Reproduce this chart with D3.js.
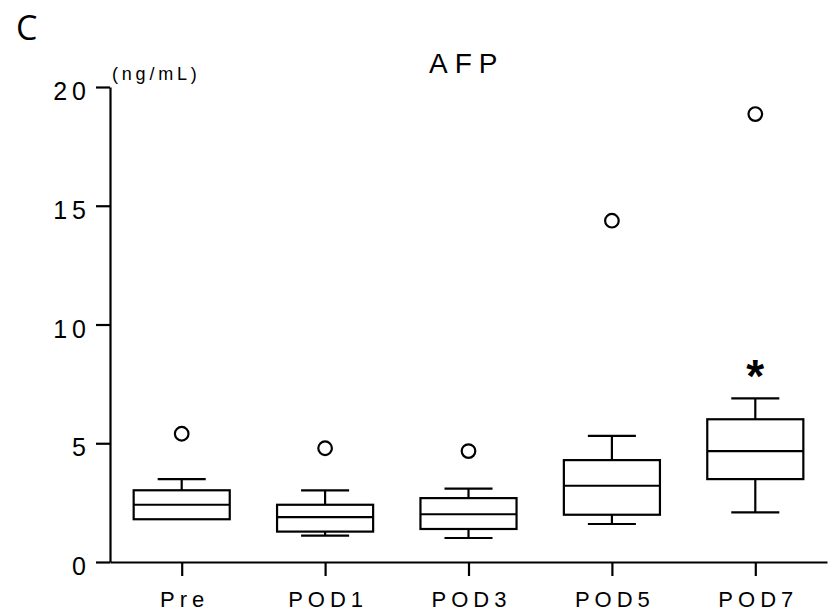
<!DOCTYPE html>
<html lang="en">
  <head>
    <title>AFP</title>
    <script src="https://cdn.jsdelivr.net/npm/d3@7"></script>
    <style>
      body { margin: 0; background: #fff; }
    </style>
  </head>
  <body>
    <div id="main"></div>
    <script>
      // group names and box-plot values (ng/mL)
      let categories = ['Pre', 'POD1', 'POD3', 'POD5', 'POD7']
      let whisker_low  = [1.80, 1.11, 1.01, 1.60, 2.09]
      let q1           = [1.80, 1.28, 1.39, 1.99, 3.49]
      let median       = [2.41, 1.89, 2.01, 3.21, 4.67]
      let q3           = [3.02, 2.41, 2.69, 4.29, 6.01]
      let whisker_high = [3.49, 3.02, 3.09, 5.31, 6.89]
      let outliers     = [[5.40], [4.79], [4.67], [14.37], [18.86]]
      let y_ticks = [0, 5, 10, 15, 20]
      let significant = ['POD7']

      let width = 836, height = 613
      let svg = d3.select('#main').append('svg')
        .attr('width', width)
        .attr('height', height)

      let scale_x = d3.scalePoint()
        .domain(categories)
        .range([110, 827])
        .padding(0.5)
      let scale_y = d3.scaleLinear()
        .domain([0, 20])
        .range([562, 87])

      let box_w = scale_x.step() * 0.67
      let cap_w = box_w / 2
      let font = "'Liberation Sans', Arial, Helvetica, sans-serif"

      let boxes = categories.map((c, i) => ({
        name: c, lo: whisker_low[i], q1: q1[i], med: median[i],
        q3: q3[i], hi: whisker_high[i], out: outliers[i]
      }))

      // axes
      let y_axis = d3.axisLeft(scale_y).tickValues(y_ticks)
        .tickSize(14).tickSizeOuter(0).tickPadding(5)
      let gy = svg.append('g')
        .attr('transform', 'translate(110,0)')
        .call(y_axis)
      gy.selectAll('text')
        .attr('font-family', font)
        .attr('font-size', '25px')
        .attr('letter-spacing', '5px')
        .attr('dy', '0.5em')
        .attr('fill', '#000')

      let x_axis = d3.axisBottom(scale_x)
        .tickSize(14).tickSizeOuter(0).tickPadding(15)
      let gx = svg.append('g')
        .attr('transform', 'translate(0,562)')
        .call(x_axis)
      gx.selectAll('text')
        .attr('font-family', font)
        .attr('font-size', '22px')
        .attr('letter-spacing', '5px')
        .attr('dx', '2.5px')
        .attr('fill', '#000')

      svg.selectAll('.domain, .tick line')
        .attr('stroke', '#000')
        .attr('stroke-width', 2.2)

      // box plots
      let g = svg.append('g')
        .attr('fill', 'none')
        .attr('stroke', '#000')
        .attr('stroke-width', 2.2)

      let bx = g.selectAll('g.box')
        .data(boxes)
        .enter()
        .append('g')
        .attr('class', 'box')

      // whisker stems
      bx.append('line')
        .attr('x1', (d) => scale_x(d.name))
        .attr('x2', (d) => scale_x(d.name))
        .attr('y1', (d) => scale_y(d.q3))
        .attr('y2', (d) => scale_y(d.hi))
      bx.append('line')
        .attr('x1', (d) => scale_x(d.name))
        .attr('x2', (d) => scale_x(d.name))
        .attr('y1', (d) => scale_y(d.q1))
        .attr('y2', (d) => scale_y(d.lo))
      // caps
      bx.append('line')
        .attr('x1', (d) => scale_x(d.name) - cap_w / 2)
        .attr('x2', (d) => scale_x(d.name) + cap_w / 2)
        .attr('y1', (d) => scale_y(d.hi))
        .attr('y2', (d) => scale_y(d.hi))
      bx.filter((d) => d.lo < d.q1)
        .append('line')
        .attr('x1', (d) => scale_x(d.name) - cap_w / 2)
        .attr('x2', (d) => scale_x(d.name) + cap_w / 2)
        .attr('y1', (d) => scale_y(d.lo))
        .attr('y2', (d) => scale_y(d.lo))
      // box
      bx.append('rect')
        .attr('x', (d) => scale_x(d.name) - box_w / 2)
        .attr('y', (d) => scale_y(d.q3))
        .attr('width', box_w)
        .attr('height', (d) => scale_y(d.q1) - scale_y(d.q3))
        .attr('fill', '#fff')
      // median
      bx.append('line')
        .attr('x1', (d) => scale_x(d.name) - box_w / 2)
        .attr('x2', (d) => scale_x(d.name) + box_w / 2)
        .attr('y1', (d) => scale_y(d.med))
        .attr('y2', (d) => scale_y(d.med))
      // outliers
      bx.selectAll('circle')
        .data((d) => d.out.map((v) => ({ name: d.name, v: v })))
        .enter()
        .append('circle')
        .attr('cx', (d) => scale_x(d.name))
        .attr('cy', (d) => scale_y(d.v))
        .attr('r', 6.8)

      // significance mark
      svg.selectAll('text.star')
        .data(boxes.filter((d) => significant.includes(d.name)))
        .enter()
        .append('text')
        .attr('class', 'star')
        .attr('x', (d) => scale_x(d.name))
        .attr('y', (d) => scale_y(d.hi) - 6)
        .attr('text-anchor', 'middle')
        .attr('font-family', font)
        .attr('font-weight', 'bold')
        .attr('font-size', '46px')
        .text('*')

      // labels
      svg.append('text')
        .attr('x', 112)
        .attr('y', 80)
        .attr('font-family', font)
        .attr('font-size', '18px')
        .attr('letter-spacing', '3.8px')
        .text('(ng/mL)')
      svg.append('text')
        .attr('x', 429)
        .attr('y', 73)
        .attr('font-family', font)
        .attr('font-size', '28px')
        .attr('letter-spacing', '7px')
        .text('AFP')
      svg.append('text')
        .attr('x', 16)
        .attr('y', 40)
        .attr('font-family', "'Open Sans', 'Noto Sans', sans-serif")
        .attr('font-size', '34px')
        .text('C')
    </script>
  </body>
</html>
